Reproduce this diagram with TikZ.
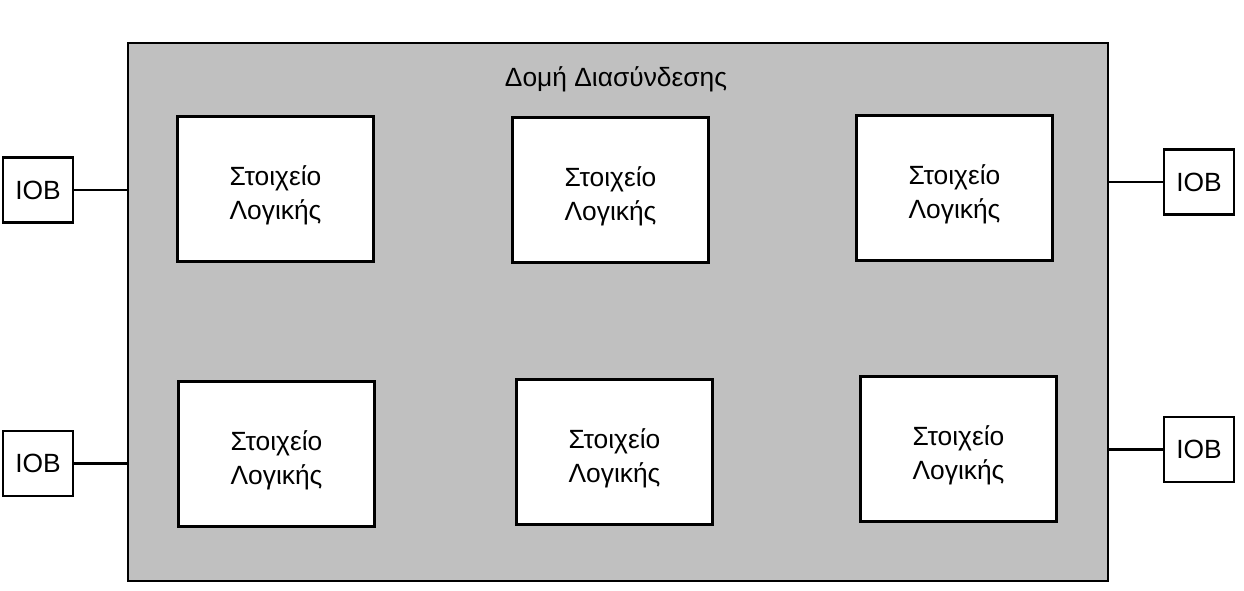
\documentclass[tikz,border=0pt]{standalone}
\usepackage{fontspec}
\setmainfont{Liberation Sans}
\usetikzlibrary{positioning}
\definecolor{FabricGrey}{HTML}{C0C0C0}
\newcommand{\lelabel}{\rule{0pt}{0.64cm}Στοιχείο\\Λογικής}
\tikzset{
  fabric/.style={draw, line width=0.6pt, fill=FabricGrey, inner sep=0pt,
    minimum width=19.6cm, minimum height=10.76cm},
  logicbox/.style={draw, line width=2pt, fill=white, align=center, inner sep=0pt,
    minimum width=3.92cm, minimum height=2.9cm, font=\fontsize{15}{19.4}\selectfont},
  iobbox/.style={draw, line width=1.3pt, fill=white, inner sep=0pt,
    minimum width=1.4cm, minimum height=1.3cm, font=\fontsize{15}{18}\selectfont},
  wire/.style={line width=1.6pt},
}

\begin{document}
\begin{tikzpicture}
    \useasboundingbox (0,0) rectangle (24.88,-11.8);
    % interconnect fabric
    \node[fabric] (fab) at (12.36,-6.24) {};
    \node[anchor=base, font=\fontsize{15}{18}\selectfont] (title) at (12.32,-1.72) {Δομή Διασύνδεσης};
    % logic elements
    \node[logicbox] (le1) at (5.51,-3.78) {\lelabel};
    \node[logicbox] (le2) at (12.21,-3.80) {\lelabel};
    \node[logicbox] (le3) at (19.09,-3.76) {\lelabel};
    \node[logicbox] (le4) at (5.53,-9.08) {\lelabel};
    \node[logicbox] (le5) at (12.29,-9.04) {\lelabel};
    \node[logicbox] (le6) at (19.17,-8.98) {\lelabel};
    % I/O blocks
    \node[iobbox] (iobl1) at (0.76,-3.80) {IOB};
    \node[iobbox] (iobl2) at (0.76,-9.27) {IOB};
    \node[iobbox] (iobr1) at (23.98,-3.64) {IOB};
    \node[iobbox] (iobr2) at (23.98,-8.99) {IOB};
    \draw[wire] (iobl1.east) -- (iobl1.east -| fab.west);
    \draw[wire] (iobl2.east) -- (iobl2.east -| fab.west);
    \draw[wire] (iobr1.west) -- (iobr1.west -| fab.east);
    \draw[wire] (iobr2.west) -- (iobr2.west -| fab.east);
\end{tikzpicture}
\end{document}
